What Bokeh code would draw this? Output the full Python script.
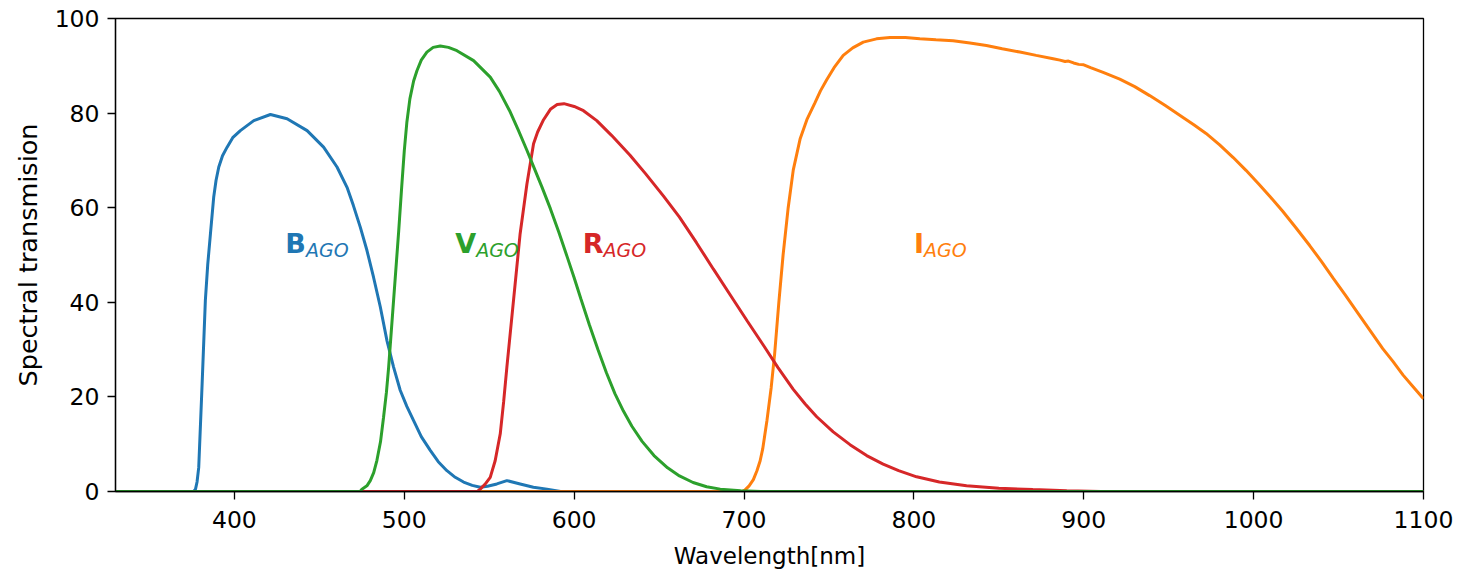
from bokeh.plotting import figure
from bokeh.models import Range1d, ColumnDataSource, FixedTicker
from bokeh.core.properties import value
from bokeh.embed import file_html
from bokeh.resources import INLINE

# ---------------- data ----------------
b_wl = [330, 376, 377.1, 378, 379, 381, 382.9, 384.3, 385.9, 387.8, 389.2, 390.8, 393, 395.7,
        399, 403.5, 411.4, 421.2, 431, 442.8, 452.5, 460.4, 466.3, 470, 474.1, 478, 481.9,
        485.9, 489.8, 493.7, 497.6, 501.5, 505.5, 510, 515.3, 520, 525.1, 530, 534.9, 540,
        544.7, 549, 554.5, 560.4, 568.2, 576, 584, 592, 1100]
b_tr = [0, 0, 0.5, 2, 5.1, 22.8, 40.4, 48, 54.5, 62.2, 65.8, 68.6, 71, 72.8,
        74.8, 76.3, 78.4, 79.7, 78.8, 76.3, 72.8, 68.6, 64.3, 60.5, 55.9, 51, 45.3,
        39, 31.9, 26.3, 21.4, 18, 15, 11.6, 8.7, 6.3, 4.4, 3, 2, 1.3,
        0.9, 1.1, 1.6, 2.3, 1.6, 0.9, 0.5, 0, 0]

v_wl = [330, 474, 475.1, 478, 480, 482, 483.9, 486, 487.8, 489.5, 490.8, 493.7, 496.7, 498.5,
        500, 501.5, 503.3, 505.5, 507.5, 510, 513.3, 517, 521.2, 526, 531, 540.8, 550.6,
        556, 562, 567, 572, 576, 581, 586, 591, 596, 600, 604, 609, 614, 619, 624, 629,
        634, 640, 647, 655, 662, 670, 678, 686, 698, 710, 1100]
v_tr = [0, 0, 0.5, 1.2, 2.3, 4, 6.6, 10.5, 15.7, 21, 26.3, 40.4, 55, 64.5,
        72, 78, 83, 86.8, 89, 91.2, 92.9, 93.9, 94.2, 93.9, 93.2, 91.1, 87.6,
        84.6, 80.5, 76.5, 72.3, 68.8, 64.4, 59.8, 54.8, 49.5, 45.2, 40.7, 35.2, 30, 25.1, 20.7, 17,
        13.8, 10.6, 7.6, 5, 3.3, 1.9, 1, 0.5, 0.15, 0, 0]

r_wl = [330, 543, 544.7, 547.5, 550.6, 553.5, 556.5, 558.5, 560.4, 564.3, 568.2, 572.2, 576.1,
        578.5, 582, 586, 590, 594, 600, 605.5, 613.3, 622, 632.9, 642, 652.5, 662, 672, 682,
        692, 702, 712, 720, 729, 736, 742.8, 752.5, 762.4, 772.2, 781.9, 791, 801.6, 815, 831,
        850, 870, 890, 910, 1100]
r_tr = [0, 0, 0.5, 1.5, 3, 6.5, 12.2, 19, 26.3, 40.4, 54.5, 65, 73.5,
        76, 78.6, 80.8, 81.8, 82, 81.4, 80.5, 78.4, 75.3, 71.1, 67.2, 62.5, 58, 52.6, 47,
        41.5, 36, 30.6, 26.2, 21.6, 18.5, 15.8, 12.6, 9.9, 7.6, 5.8, 4.4, 3.1, 2, 1.2,
        0.7, 0.4, 0.15, 0, 0]

i_wl = [330, 699, 700.5, 703, 705.5, 707.6, 709.5, 711, 713.5, 716, 718, 720.5, 723, 726, 729,
        733, 737, 741.8, 745, 748.6, 753, 758.4, 764, 770.2, 778, 785.9, 795, 803.5, 813, 823.1,
        833, 842.7, 852, 862.4, 872, 882, 886, 889, 891, 894, 897, 900, 904, 911.4, 921.2,
        930, 938.8, 948, 958, 965, 972, 980, 988, 995.5, 1003, 1010, 1017, 1025,
        1033, 1040, 1047, 1054, 1062, 1069, 1076, 1082, 1088, 1094, 1100]
i_tr = [0, 0, 0.3, 1.2, 2.5, 4.4, 6.5, 9, 15, 22, 29, 40, 50, 60, 68,
        74.5, 78.6, 82.2, 84.7, 87, 89.6, 92.2, 93.8, 95, 95.7, 96, 96, 95.7, 95.5, 95.3,
        94.8, 94.3, 93.6, 92.9, 92.2, 91.5, 91.2, 90.9, 91, 90.6, 90.3, 90.2, 89.6, 88.6, 87.2,
        85.6, 83.7, 81.6, 79.2, 77.5, 75.7, 73.3, 70.6, 67.9, 65, 62.2, 59.3, 55.7,
        52, 48.6, 45, 41.5, 37.4, 33.8, 30.2, 27.5, 24.6, 22.1, 19.6]

label_letters = ["B", "V", "R", "I"]
label_sub = ["AGO", "AGO", "AGO", "AGO"]
label_x = [430, 530, 605, 800]
label_y = [50, 50, 50, 50]

x_ticks = [400, 500, 600, 700, 800, 900, 1000, 1100]
y_ticks = [0, 20, 40, 60, 80, 100]

# ---------------- styling ----------------
C_B, C_I, C_R, C_V = "#1f77b4", "#ff7f0e", "#d62728", "#2ca02c"
label_colors = [C_B, C_V, C_R, C_I]
FONT = "DejaVu Sans"
TICK_PX = "23.5px"
MAIN_PX = 27
SUB_PX = 19
bold_adv = {"B": 0.762, "V": 0.774, "R": 0.770, "I": 0.372}

p = figure(width=1475, height=574, output_backend="svg", toolbar_location=None,
           x_range=Range1d(330, 1100), y_range=Range1d(0, 100),
           min_border_left=115, min_border_right=52, min_border_top=18, min_border_bottom=83)
p.background_fill_color = "white"
p.border_fill_color = "white"
p.grid.visible = False
p.outline_line_color = "black"
p.outline_line_width = 1.3
p.outline_line_alpha = 1.0

lw = 3
p.line(b_wl, b_tr, line_color=C_B, line_width=lw)
p.line(i_wl, i_tr, line_color=C_I, line_width=lw)
p.line(r_wl, r_tr, line_color=C_R, line_width=lw)
p.line(v_wl, v_tr, line_color=C_V, line_width=lw)

# labels: bold letter + italic subscript
src = ColumnDataSource(dict(x=label_x, y=label_y, t=label_letters, s=label_sub, c=label_colors,
                            off=[bold_adv[l] * MAIN_PX for l in label_letters]))
p.text(x="x", y="y", text="t", source=src, text_color="c", text_font=value(FONT),
       text_font_style="bold", text_font_size=f"{MAIN_PX}px", text_align="left",
       text_baseline="alphabetic", y_offset=-12)
p.text(x="x", y="y", text="s", source=src, text_color="c", text_font=value(FONT),
       text_font_style="italic", text_font_size=f"{SUB_PX}px", text_align="left",
       text_baseline="alphabetic", x_offset="off", y_offset=-5.5)

for ax in (p.xaxis, p.yaxis):
    ax.axis_line_color = "black"
    ax.axis_line_width = 1.3
    ax.major_tick_line_color = "black"
    ax.major_tick_line_width = 1.3
    ax.major_tick_out = 8
    ax.major_tick_in = 0
    ax.minor_tick_line_color = None
    ax.major_label_text_font = FONT
    ax.major_label_text_font_size = TICK_PX
    ax.major_label_text_color = "black"
    ax.axis_label_text_font = FONT
    ax.axis_label_text_font_style = "normal"
    ax.axis_label_text_color = "black"

p.xaxis.axis_label_text_font_size = "23px"
p.yaxis.axis_label_text_font_size = "25.5px"
p.xaxis.ticker = FixedTicker(ticks=x_ticks)
p.yaxis.ticker = FixedTicker(ticks=y_ticks)
p.xaxis.axis_label = "Wavelength[nm]"
p.yaxis.axis_label = "Spectral transmision"
p.xaxis.major_label_standoff = 11
p.yaxis.major_label_standoff = 8
p.xaxis.axis_label_standoff = 12
p.yaxis.axis_label_standoff = 9

open("out.html", "w").write(file_html(p, INLINE))
